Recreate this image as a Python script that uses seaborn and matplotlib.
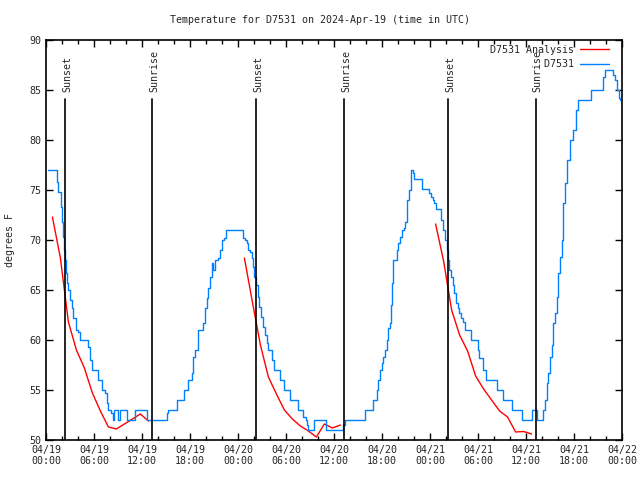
import matplotlib
matplotlib.use("Agg")
import matplotlib.pyplot as plt
import seaborn as sns
import pandas as pd
from matplotlib.ticker import MultipleLocator

# ---- data (hours since 2024-04-19 00:00 UTC) ----
obs_hours = [0.29, 1.04, 1.34, 1.54, 1.84, 2.0, 2.16, 2.29, 2.38, 2.5, 2.59, 2.79, 3.0, 3.21,
             3.41, 3.71, 4.04, 4.25, 5.09, 5.29, 5.5, 5.79, 6.34, 6.54, 6.96, 7.375, 7.59,
             7.79, 8.09, 8.34, 8.5, 9.04, 9.25, 10.16, 11.125, 12.59, 15.09, 15.29, 16.34,
             17.29, 17.79, 18.21, 18.41, 18.625, 18.96, 19.66, 19.875, 20.09, 20.29, 20.5,
             20.71, 20.91, 21.125, 21.54, 21.75, 21.96, 22.25, 22.5, 24.59, 24.875, 25.09,
             25.29, 25.5, 25.71, 25.84, 26.04, 26.25, 26.46, 26.66, 26.875, 27.16, 27.375,
             27.59, 27.79, 28.21, 28.5, 29.25, 29.79, 30.5, 31.46, 32.16, 32.46, 32.66,
             32.79, 33.54, 35.0, 37.16, 37.375, 39.875, 40.91, 41.34, 41.54, 41.75, 41.96,
             42.16, 42.375, 42.59, 42.79, 43.0, 43.09, 43.21, 43.34, 43.41, 43.84, 44.04,
             44.25, 44.46, 44.75, 44.875, 45.09, 45.41, 45.59, 45.66, 45.84, 46.0, 46.96,
             47.91, 48.09, 48.34, 48.54, 48.71, 49.375, 49.66, 49.875, 50.09, 50.29, 50.41,
             50.625, 50.84, 51.04, 51.25, 51.46, 51.66, 51.875, 52.16, 52.375, 53.125,
             53.94, 54.16, 54.59, 55.06, 56.34, 57.16, 58.21, 59.46, 60.71, 61.41, 62.16,
             62.375, 62.59, 62.79, 63.0, 63.21, 63.41, 63.625, 63.84, 64.04, 64.25, 64.46,
             64.66, 64.875, 65.09, 65.5, 65.84, 66.25, 66.46, 68.09, 69.66, 69.875, 70.84,
             71.125, 71.34, 71.66, 71.75]
obs_temps = [77.0, 77.0, 75.8, 74.8, 73.3, 71.8, 70.3, 69.0, 68.0, 66.7, 65.7, 65.0, 64.0, 63.2,
             62.2, 61.0, 60.8, 60.0, 60.0, 59.3, 58.0, 57.0, 57.0, 56.0, 55.0, 54.7, 53.7,
             53.0, 52.7, 52.0, 53.0, 52.0, 53.0, 52.0, 53.0, 52.0, 52.7, 53.0, 54.0,
             55.0, 56.0, 56.7, 58.3, 59.0, 61.0, 61.7, 63.2, 64.2, 65.2, 66.3,
             67.7, 67.0, 68.0, 68.2, 69.0, 70.0, 70.2, 71.0, 70.2, 70.0, 69.7,
             69.0, 68.8, 68.2, 67.3, 66.3, 65.5, 64.3, 63.3, 62.3, 61.3, 60.5,
             59.7, 59.0, 58.0, 57.0, 56.0, 55.0, 54.0, 53.0, 52.3, 52.0, 51.5,
             51.0, 52.0, 51.0, 51.5, 52.0, 53.0, 54.0, 55.0, 56.0, 57.0, 57.7,
             58.3, 59.0, 60.0, 61.2, 61.7, 63.5, 65.7, 67.0, 68.0, 69.0, 69.7,
             70.3, 71.0, 71.2, 71.8, 74.0, 75.0, 76.5, 77.0, 76.7, 76.1, 75.1,
             74.7, 74.3, 74.0, 73.7, 73.1, 72.0, 71.0, 70.0, 69.0, 68.0, 67.0,
             66.3, 65.5, 64.7, 63.7, 63.2, 62.7, 62.2, 61.8, 61.0, 60.0,
             59.0, 58.2, 57.0, 56.0, 55.0, 54.0, 53.0, 52.0, 53.0, 52.0, 53.0,
             54.0, 55.7, 56.7, 58.3, 59.5, 61.7, 62.7, 64.3, 66.7, 68.3, 70.0,
             73.7, 75.7, 78.0, 80.0, 81.0, 83.0, 84.0, 85.0, 86.3, 87.0, 86.5,
             86.0, 85.0, 84.2, 84.0]

ana_hours = [0.8, 1.8, 2.8, 3.8, 4.8, 5.8, 6.8, 7.8, 8.8, 9.8, 10.8, 11.8, 12.8,
             24.8, 25.8, 26.8, 27.8, 28.8, 29.8, 30.8, 31.8, 32.8, 33.8, 34.8, 35.8, 36.8,
             48.7, 49.7, 50.7, 51.7, 52.7, 53.7, 54.7, 55.7, 56.7, 57.7, 58.7, 59.7, 60.7]
ana_temps = [72.3, 68.2, 61.8, 59.0, 57.2, 54.7, 52.9, 51.3, 51.1, 51.6, 52.1, 52.6, 51.9,
             68.2, 63.8, 59.5, 56.3, 54.6, 53.0, 52.1, 51.4, 50.9, 50.3, 51.6, 51.2, 51.5,
             71.6, 67.9, 63.0, 60.5, 58.9, 56.4, 55.1, 54.0, 52.9, 52.3, 50.8, 50.85, 50.6]
ana_segment = [1] * 13 + [2] * 13 + [3] * 13

sun_hours = [2.41, 13.29, 26.29, 37.29, 50.29, 61.2]
sun_labels = ["Sunset", "Sunrise", "Sunset", "Sunrise", "Sunset", "Sunrise"]

tick_hours = [0, 6, 12, 18, 24, 30, 36, 42, 48, 54, 60, 66, 72]
tick_labels = ["04/19\n00:00", "04/19\n06:00", "04/19\n12:00", "04/19\n18:00",
               "04/20\n00:00", "04/20\n06:00", "04/20\n12:00", "04/20\n18:00",
               "04/21\n00:00", "04/21\n06:00", "04/21\n12:00", "04/21\n18:00",
               "04/22\n00:00"]

series_names = ["D7531 Analysis", "D7531"]
title = "Temperature for D7531 on 2024-Apr-19 (time in UTC)"

# ---- plot ----
sns.set_style("ticks")
plt.rcParams["font.family"] = ["DejaVu Sans Mono", "DejaVu Sans"]
FS = 7.2

fig = plt.figure(figsize=(6.4, 4.8), dpi=100)
ax = fig.add_axes([46 / 640, 40 / 480, 576 / 640, 400 / 480])

obs = pd.DataFrame({"hour": obs_hours, "temp": obs_temps})
ana = pd.DataFrame({"hour": ana_hours, "temp": ana_temps, "seg": ana_segment})

# right-align legend labels (monospace font)
w = max(len(s) for s in series_names)
leg_labels = [s.rjust(w) for s in series_names]

for i, (seg, part) in enumerate(ana.groupby("seg")):
    sns.lineplot(data=part, x="hour", y="temp", estimator=None, sort=False,
                 color="#ff0000", linewidth=1.0, ax=ax,
                 label=leg_labels[0] if i == 0 else "_nolegend_")
sns.lineplot(data=obs, x="hour", y="temp", estimator=None, sort=False,
             color="#0080ff", linewidth=1.0, drawstyle="steps-post", ax=ax,
             label=leg_labels[1])

for h, lab in zip(sun_hours, sun_labels):
    ax.plot([h, h], [0, 0.8525], color="black", linewidth=1.2,
            transform=ax.get_xaxis_transform())
    ax.text(h + 0.2, 0.87, lab, rotation=90, ha="center", va="bottom", fontsize=FS,
            transform=ax.get_xaxis_transform())

ax.set_xlim(0, 72)
ax.set_ylim(50, 90)
ax.set_xticks(tick_hours)
ax.set_xticklabels(tick_labels, fontsize=FS)
ax.xaxis.set_minor_locator(MultipleLocator(2))
ax.yaxis.set_major_locator(MultipleLocator(5))
ax.tick_params(axis="y", labelsize=FS)
ax.tick_params(which="major", direction="in", length=5, width=1, top=True, right=True, color="black")
ax.tick_params(which="minor", direction="in", length=3, width=1, top=True, right=False, color="black")
ax.tick_params(axis="y", which="minor", left=False, right=False)
for s in ax.spines.values():
    s.set_visible(True)
    s.set_color("black")
    s.set_linewidth(1.2)

ax.set_xlabel("")
ax.set_ylabel("degrees F", fontsize=FS, labelpad=10)
fig.text(0.5, 1 - 20 / 480, title, ha="center", va="center", fontsize=FS)

leg = ax.legend(loc="upper right", bbox_to_anchor=(1 - 9 / 576, 1 - 1 / 400),
                frameon=False, markerfirst=False, fontsize=FS,
                handlelength=2.9, borderaxespad=0.2, labelspacing=0.45, handletextpad=0.6,
                borderpad=0.2)

fig.savefig("out.png", dpi=100)
